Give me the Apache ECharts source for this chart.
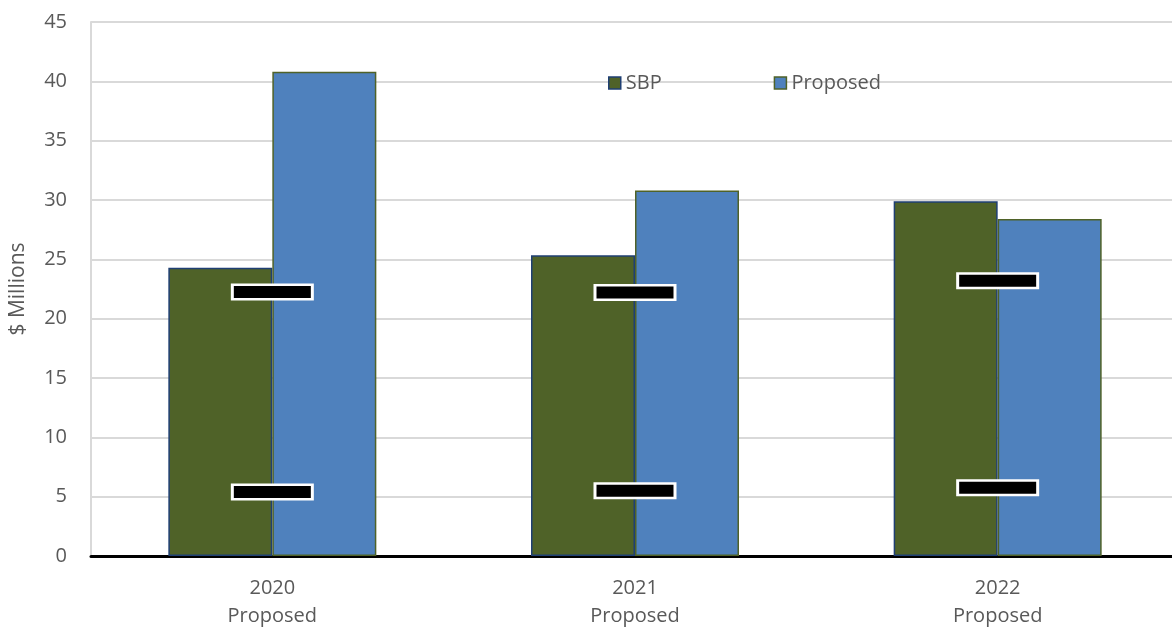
<!DOCTYPE html>
<html>
<head>
<meta charset="utf-8">
<script src="https://cdn.jsdelivr.net/npm/echarts@6/dist/echarts.min.js"></script>
<style>html,body{margin:0;padding:0;background:#fff}#c{width:1172px;height:629px}</style>
</head>
<body>
<div id="c"></div>
<script>
const categories = ['2020\nProposed', '2021\nProposed', '2022\nProposed'];
const sbpValues = [24.3, 25.35, 29.9];
const proposedValues = [40.8, 30.8, 28.4];
const markerUpper = [22.25, 22.2, 23.2];
const markerLower = [5.4, 5.5, 5.75];
const yTicks = { min: 0, max: 45, interval: 5 };

const FONT = '"Open Sans", sans-serif';
const chart = echarts.init(document.getElementById('c'), null, { renderer: 'canvas' });
function markerLayer(name, data, color, size, z) {
  return {
    name: name, type: 'scatter', data: data, symbol: 'rect', symbolSize: size, z: z, silent: true,
    itemStyle: { color: color, opacity: 1, borderWidth: 0 }
  };
}
chart.setOption({
  animation: false,
  textStyle: { fontFamily: FONT },
  grid: { left: 91, top: 22, bottom: 73, width: 1088, containLabel: false, outerBoundsMode: 'none' },
  legend: {
    left: 603, top: 68, itemWidth: 12, itemHeight: 12, itemGap: 112,
    textStyle: { fontFamily: FONT, fontSize: 20, color: '#595959' },
    data: [
      { name: 'SBP', icon: 'rect', itemStyle: { color: '#4f6228', borderColor: '#1f3f73', borderWidth: 1.5 } },
      { name: 'Proposed', icon: 'rect', itemStyle: { color: '#4f81bd', borderColor: '#4f6228', borderWidth: 1.5 } }
    ]
  },
  xAxis: {
    type: 'category', data: categories,
    axisLine: { lineStyle: { color: '#000', width: 3 } },
    axisTick: { show: false },
    axisLabel: { color: '#595959', fontSize: 20, lineHeight: 28, margin: 18, fontFamily: FONT }
  },
  yAxis: {
    type: 'value', min: yTicks.min, max: yTicks.max, interval: yTicks.interval,
    name: '$ Millions', nameLocation: 'middle', nameGap: 62, nameRotate: 90,
    nameTextStyle: { color: '#595959', fontSize: 21, fontFamily: FONT },
    axisLine: { show: true, lineStyle: { color: '#d9d9d9', width: 2 } },
    axisTick: { show: false },
    axisLabel: { color: '#595959', fontSize: 20, margin: 24, fontFamily: FONT },
    splitLine: { lineStyle: { color: '#d9d9d9', width: 2 } }
  },
  series: [
    { name: 'SBP', type: 'bar', data: sbpValues, barWidth: 104, barGap: '0%',
      itemStyle: { color: '#4f6228', borderColor: '#1f3f73', borderWidth: 1.5 } },
    { name: 'Proposed', type: 'bar', data: proposedValues, barWidth: 104, barGap: '0%',
      itemStyle: { color: '#4f81bd', borderColor: '#4f6228', borderWidth: 1.5 } },
    markerLayer('mUw', markerUpper, '#ffffff', [83, 17], 10),
    markerLayer('mLw', markerLower, '#ffffff', [83, 17], 10),
    markerLayer('mUb', markerUpper, '#000000', [77, 12], 11),
    markerLayer('mLb', markerLower, '#000000', [77, 12], 11)
  ]
});
</script>
</body>
</html>
